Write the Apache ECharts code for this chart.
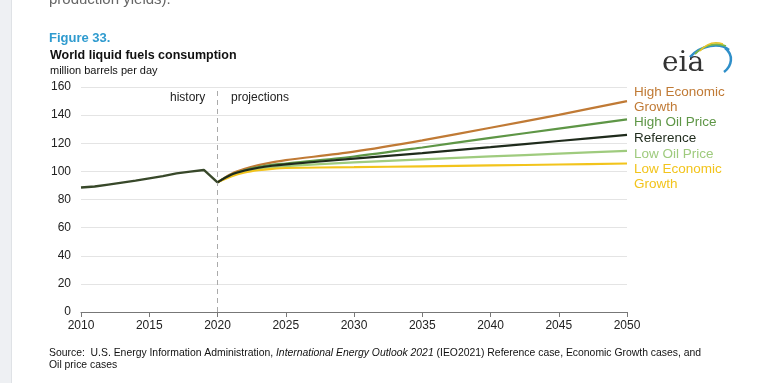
<!DOCTYPE html>
<html><head><meta charset="utf-8">
<script src="https://cdn.jsdelivr.net/npm/echarts@6/dist/echarts.min.js"></script>
<style>html,body{margin:0;padding:0;background:#fff}#c{width:772px;height:383px}</style>
</head><body><div id="c"></div>
<script>
const histYears = [2010,2011,2012,2013,2014,2015,2016,2017,2018,2019,2020];
const histValues = [88.5,89.2,90.6,92.0,93.4,95.0,96.6,98.6,99.8,101.0,92.2];
const projYears = [2020,2021,2022,2023,2024,2025,2030,2035,2040,2045,2050];
const highEcon = [92.2,98.2,101.8,104.4,106.4,108.0,114.0,122.0,131.0,140.2,150.0];
const highOil  = [92.2,97.6,100.8,103.0,104.6,105.6,110.6,117.0,123.8,130.4,137.0];
const reference= [92.2,97.6,100.6,102.6,104.0,105.0,109.0,113.0,117.2,121.6,126.0];
const lowOil   = [92.2,97.0,99.8,101.8,103.0,103.8,106.4,108.6,110.6,112.6,114.6];
const lowEcon  = [92.2,96.4,99.2,100.8,101.8,102.4,103.0,103.6,104.2,104.9,105.6];
const seriesNames = ['High Economic\nGrowth','High Oil Price','Reference','Low Oil Price','Low Economic\nGrowth'];
const seriesColors = ['#c07a35','#5e9646','#1f2b1c','#9fcb7e','#f2c41c'];
const xTicks = [2010,2015,2020,2025,2030,2035,2040,2045,2050];
const yTicks = [0,20,40,60,80,100,120,140,160];

const chart = echarts.init(document.getElementById('c'));
const pair = (xs, ys) => xs.map((x,i)=>[x,ys[i]]);
const projData = [highEcon, highOil, reference, lowOil, lowEcon];
const labelOffsets = [[-1,-1],[-1,3],[-1,3],[-1,3],[-1,13]];
const series = projData.map((d,i)=>({
  type:'line', name:seriesNames[i], data:pair(projYears,d), smooth:0.3, showSymbol:false,
  lineStyle:{color:seriesColors[i], width:2.2}, z: i===2 ? 6 : 4,
  endLabel:{show:true, formatter:seriesNames[i], color:seriesColors[i], fontSize:13.5,
    fontFamily:'Liberation Sans, Arial', fontWeight:500, lineHeight:15, offset:labelOffsets[i], align:'left'},
  emphasis:{disabled:true}, animation:false
}));
series.push({type:'line', name:'history', data:pair(histYears,histValues), showSymbol:false,
  lineStyle:{color:'#38482a', width:2.4}, z:7, animation:false,
  markLine:{symbol:'none', silent:true, label:{show:false},
    lineStyle:{color:'#aaa', type:[5,4], width:1}, data:[{xAxis:2020}]}});

chart.setOption({
  animation:false,
  grid:{left:81, right:145, top:87, bottom:71},
  xAxis:{type:'value', min:xTicks[0], max:xTicks[xTicks.length-1], interval:5,
    axisLine:{lineStyle:{color:'#777', width:1}},
    axisTick:{show:true, inside:false, length:5, lineStyle:{color:'#777'}},
    axisLabel:{color:'#222', fontSize:12, fontFamily:'Liberation Sans, Arial', margin:8,
      formatter:v=>String(v)},
    splitLine:{show:false}},
  yAxis:{type:'value', min:yTicks[0], max:yTicks[yTicks.length-1], interval:20,
    axisLine:{show:false}, axisTick:{show:false},
    axisLabel:{color:'#222', fontSize:12, fontFamily:'Liberation Sans, Arial', margin:10},
    splitLine:{lineStyle:{color:'#e4e4e4', width:1}}},
  series: series,
  graphic:[
    {type:'rect', shape:{x:0,y:0,width:11,height:383}, style:{fill:'#eef0f3'}, z:-1},
    {type:'rect', shape:{x:11,y:0,width:1,height:383}, style:{fill:'#dfe2e6'}, z:-1},
    {type:'text', left:49, top:-8, style:{text:'production yields).', fill:'#666', font:'15px Liberation Sans, Arial'}},
    {type:'text', left:49, top:32, style:{text:'Figure 33.', fill:'#2f9bcf', font:'bold 13px Liberation Sans, Arial'}},
    {type:'text', left:50, top:49, style:{text:'World liquid fuels consumption', fill:'#111', font:'bold 12.5px Liberation Sans, Arial'}},
    {type:'text', left:50, top:65, style:{text:'million barrels per day', fill:'#111', font:'11px Liberation Sans, Arial'}},
    {type:'text', left:170, top:92, style:{text:'history', fill:'#222', font:'12px Liberation Sans, Arial'}},
    {type:'text', left:231, top:92, style:{text:'projections', fill:'#222', font:'12px Liberation Sans, Arial'}},
    {type:'text', left:49, top:348, style:{rich:{n:{fill:'#111', font:'10.4px Liberation Sans, Arial'}, i:{fill:'#111', font:'italic 10.4px Liberation Sans, Arial'}},
      text:'{n|Source:  U.S. Energy Information Administration, }{i|International Energy Outlook 2021}{n| (IEO2021) Reference case, Economic Growth cases, and}'}},
    {type:'text', left:49, top:360, style:{text:'Oil price cases', fill:'#111', font:'10.4px Liberation Sans, Arial'}},
    {type:'text', left:662, top:50, style:{text:'eia', fill:'#333', font:'28px DejaVu Serif, Liberation Serif, serif'}},
    {type:'bezierCurve', shape:{x1:690,y1:57,x2:729,y2:50,cpx1:701,cpy1:45,cpx2:720,cpy2:42}, style:{stroke:'#2f8fc9', lineWidth:2.5, fill:null}},
    {type:'bezierCurve', shape:{x1:695,y1:54,x2:726,y2:46,cpx1:704,cpy1:45,cpx2:716,cpy2:42}, style:{stroke:'#7ab648', lineWidth:1.8, fill:null}},
    {type:'bezierCurve', shape:{x1:700,y1:51,x2:723,y2:44,cpx1:706,cpy1:44,cpx2:714,cpy2:41}, style:{stroke:'#e9c42a', lineWidth:1.5, fill:null}},
    {type:'bezierCurve', shape:{x1:725,y1:48,x2:724,y2:72,cpx1:734,cpy1:55,cpx2:732,cpy2:66}, style:{stroke:'#2f8fc9', lineWidth:2.5, fill:null}}
  ]
});
</script></body></html>
